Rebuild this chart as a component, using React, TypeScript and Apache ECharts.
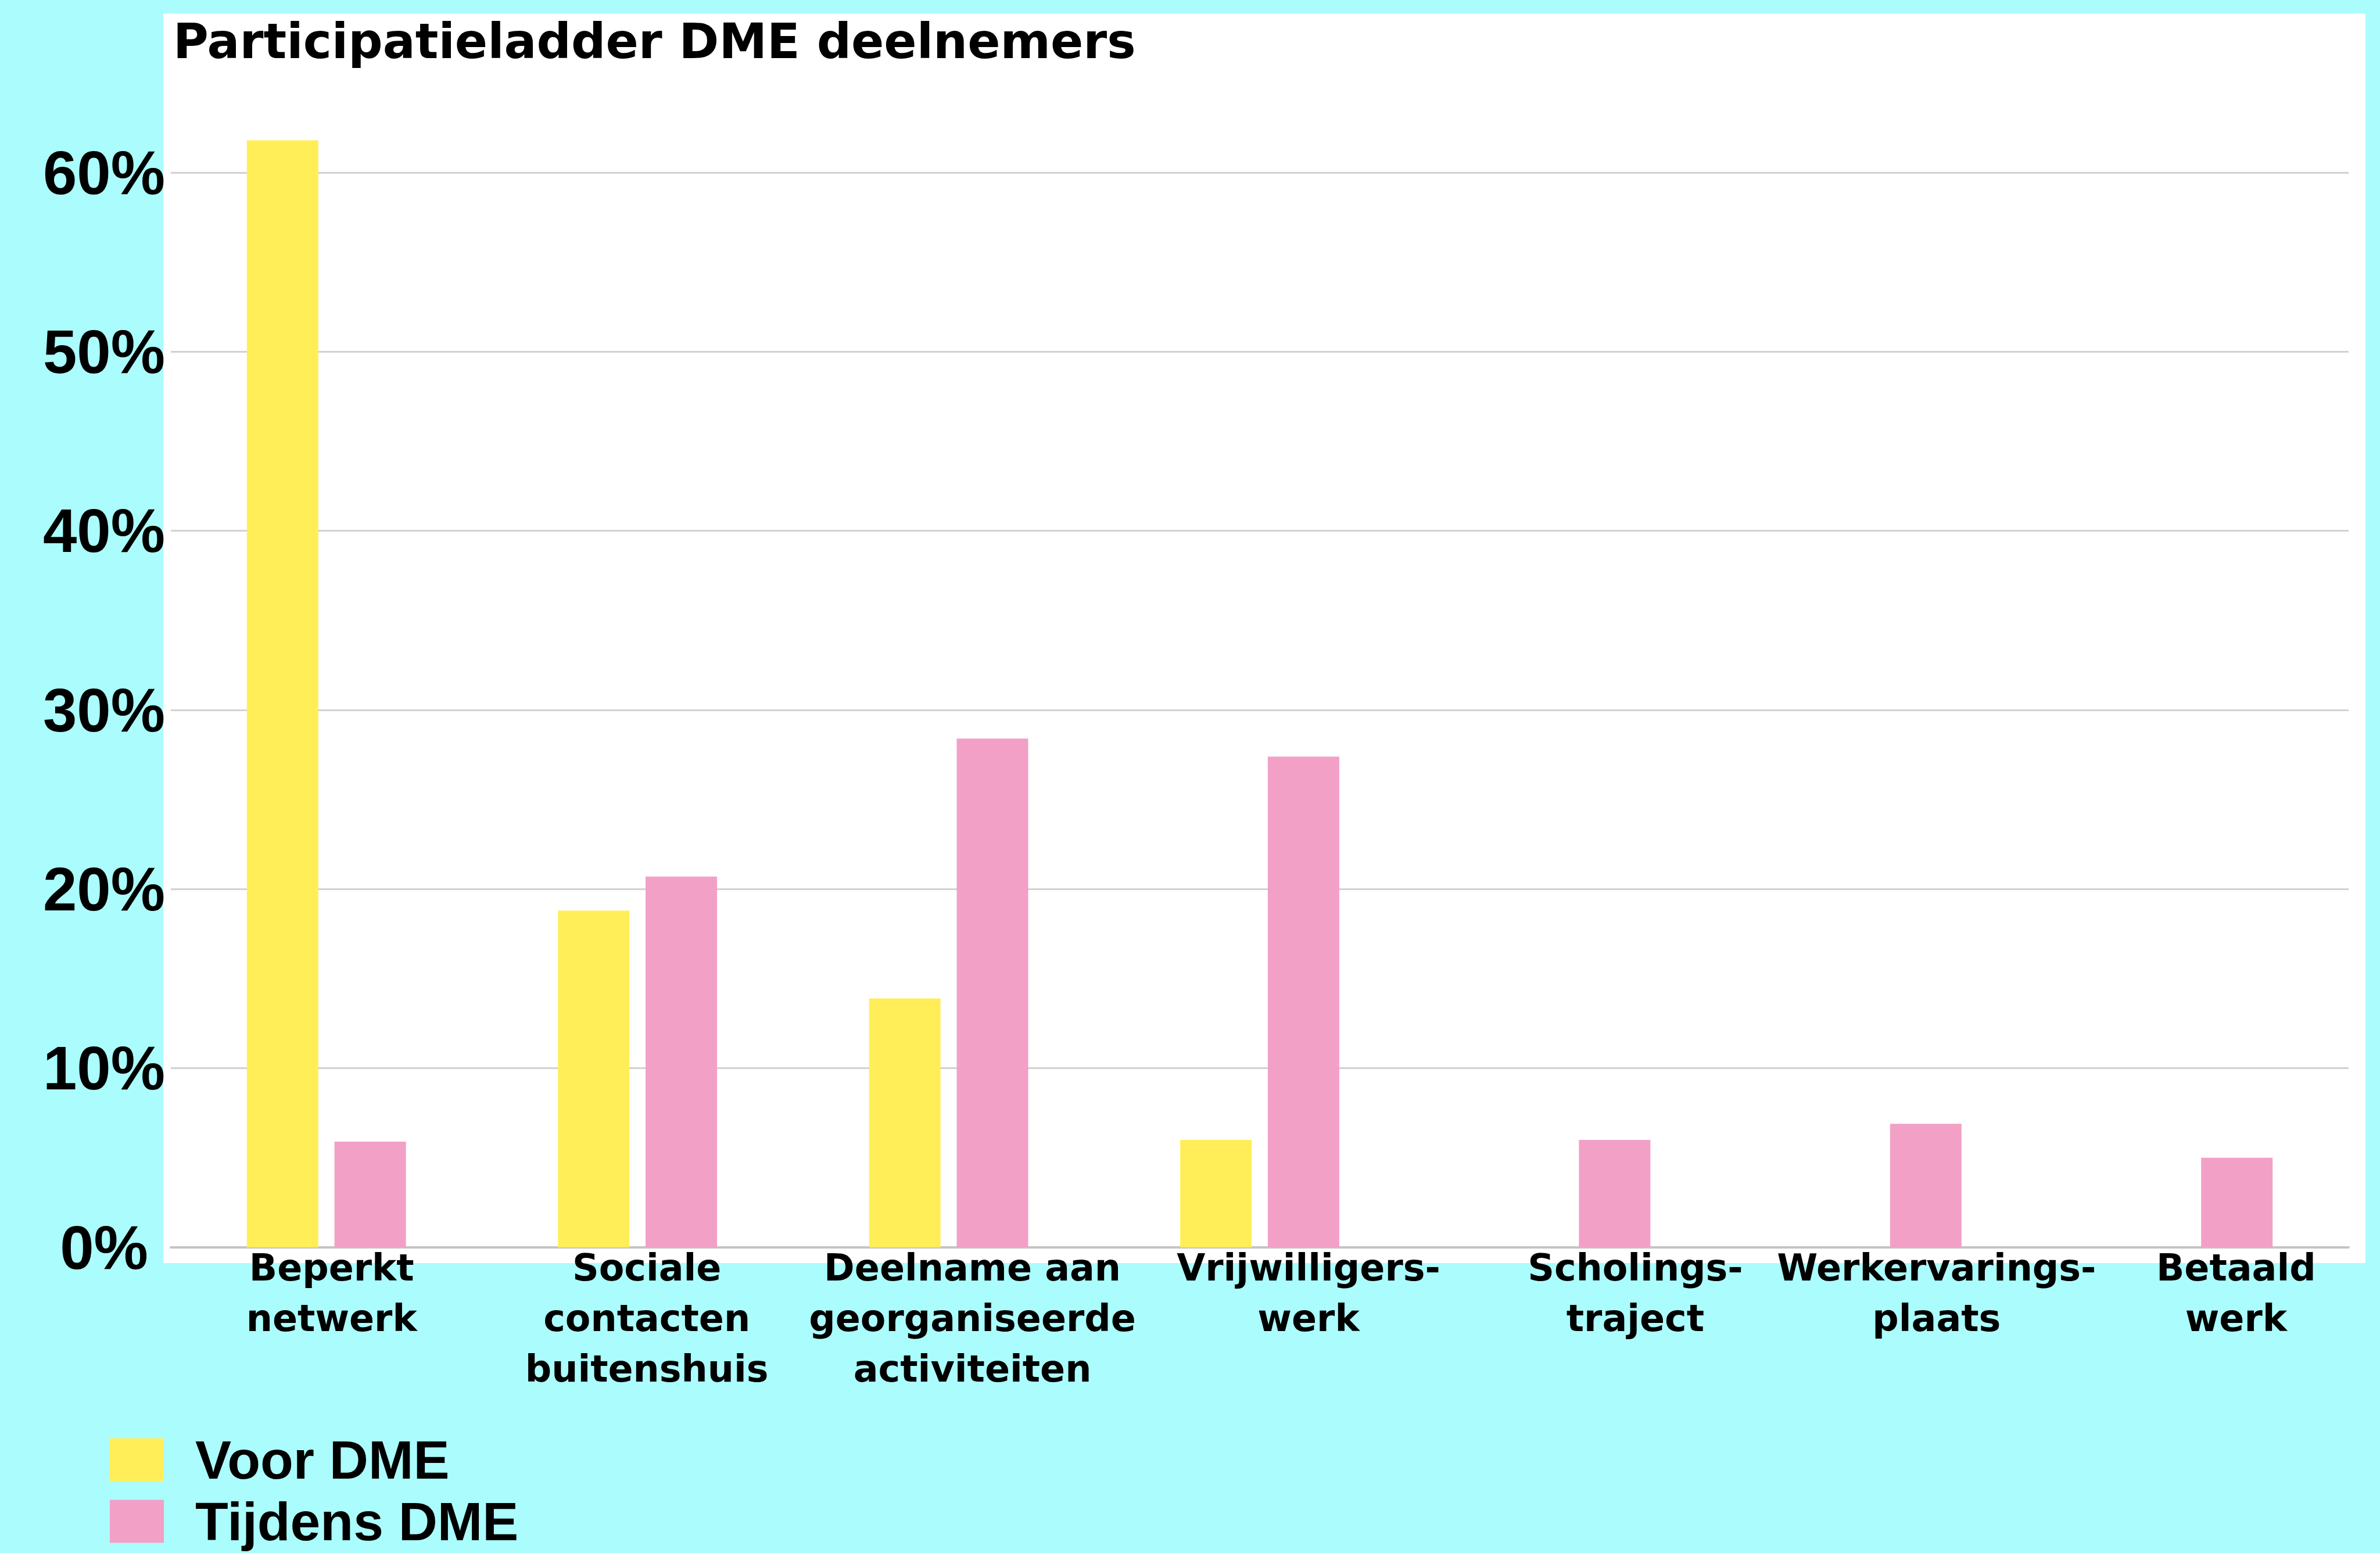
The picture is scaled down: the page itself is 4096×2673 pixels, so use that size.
import React, { useEffect, useRef } from "react";
import * as echarts from "echarts";

// ---- data ----
const categories = [
  "Beperkt\nnetwerk",
  "Sociale\ncontacten\nbuitenshuis",
  "Deelname aan\ngeorganiseerde\nactiviteiten",
  "Vrijwilligers-\nwerk",
  "Scholings-\ntraject",
  "Werkervarings-\nplaats",
  "Betaald\nwerk",
];
const seriesNames = ["Voor DME", "Tijdens DME"];
const voorDME = [61.8, 18.8, 13.9, 6.0, 0, 0, 0];
const tijdensDME = [5.9, 20.7, 28.4, 27.4, 6.0, 6.9, 5.0];
const yMin = 0;
const yMax = 60;
const yInterval = 10;
const titleText = "Participatieladder DME deelnemers";

// ---- layout (not data) ----
const labelShift = [9, 16, 41, 84, 111, 94, 74];
const legendTops = [2466, 2572];
const COLORS = ["#FFEE58", "#F2A0C6"];

export default function App() {
  const ref = useRef<HTMLDivElement>(null);

  useEffect(() => {
    document.body.style.margin = "0";
    const chart = echarts.init(ref.current!, null, { renderer: "svg" });

    const rich: Record<string, any> = {};
    categories.forEach((_, i) => {
      rich["c" + i] = {
        fontFamily: "DejaVu Sans",
        fontWeight: "bold",
        fontSize: 63.5,
        lineHeight: 86.7,
        color: "#000",
        padding: [0, 0, 0, 2 * labelShift[i]],
      };
    });

    const legends = seriesNames.map((name, i) => ({
      orient: "vertical",
      left: 189,
      top: legendTops[i],
      padding: 0,
      itemWidth: 93,
      itemHeight: 74,
      itemGap: 0,
      icon: "rect",
      selectedMode: false,
      data: [name],
      textStyle: {
        fontFamily: "Liberation Sans",
        fontWeight: "bold",
        fontSize: 93,
        lineHeight: 74,
        height: 74,
        color: "#000",
        padding: [0, 0, 0, 49],
      },
    }));

    const option: any = {
      animation: false,
      backgroundColor: "#ABFCFC",
      title: {
        text: titleText,
        left: 298,
        top: 30,
        padding: 0,
        textStyle: {
          fontFamily: "DejaVu Sans",
          fontWeight: "bold",
          fontSize: 83,
          lineHeight: 83,
          color: "#000",
        },
      },
      graphic: [
        {
          type: "rect",
          z: -10,
          shape: { x: 281, y: 23, width: 3790, height: 2151 },
          style: { fill: "#FFFFFF" },
          silent: true,
        },
      ],
      legend: legends,
      grid: {
        left: 294,
        right: 54,
        top: 297,
        bottom: 526,
        containLabel: false,
      },
      xAxis: {
        type: "category",
        data: categories,
        axisTick: { show: false },
        axisLine: { show: true, lineStyle: { color: "#C4C4C4", width: 4 } },
        splitLine: { show: false },
        axisLabel: {
          interval: 0,
          margin: -8,
          align: "center",
          verticalAlign: "top",
          formatter: (value: string, index: number) => `{c${index}|${value}}`,
          rich,
        },
      },
      yAxis: {
        type: "value",
        min: yMin,
        max: yMax,
        interval: yInterval,
        axisLine: { show: false },
        axisTick: { show: false },
        splitLine: { show: true, lineStyle: { color: "#D2D2D2", width: 3 } },
        axisLabel: {
          formatter: "{value}%",
          align: "center",
          margin: 115,
          fontFamily: "Liberation Sans",
          fontWeight: "bold",
          fontSize: 105,
          color: "#000",
        },
      },
      series: [
        {
          name: seriesNames[0],
          type: "bar",
          data: voorDME,
          barWidth: 123,
          barGap: "22.6%",
          clip: false,
          itemStyle: { color: COLORS[0] },
        },
        {
          name: seriesNames[1],
          type: "bar",
          data: tijdensDME,
          barWidth: 123,
          barGap: "22.6%",
          clip: false,
          itemStyle: { color: COLORS[1] },
        },
      ],
    };

    chart.setOption(option);
    return () => chart.dispose();
  }, []);

  return (
    <div
      ref={ref}
      style={{ position: "fixed", left: 0, top: 0, width: 4096, height: 2673 }}
    />
  );
}
